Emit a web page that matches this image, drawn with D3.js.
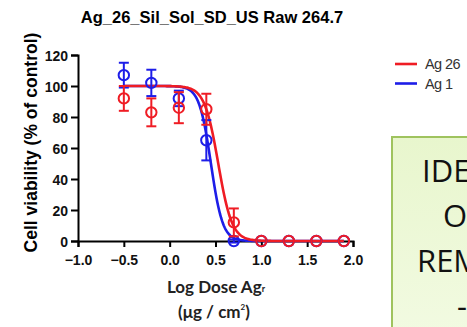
<!DOCTYPE html>
<html>
<head>
<meta charset="utf-8">
<script src="https://cdn.jsdelivr.net/npm/d3@7"></script>
<style>
  body { margin: 0; background: #fff; }
  svg { display: block; }
  .axis path, .axis line { stroke: #000; stroke-width: 2; }
  .axis text { font-family: "Liberation Sans", Arial, sans-serif; font-weight: bold; font-size: 14px; fill: #111; }
</style>
</head>
<body>
<div id="chart"></div>
<script>
// dose points (log µg/cm²)
const logDose = [-0.5, -0.2, 0.1, 0.4, 0.7, 1.0, 1.3, 1.6, 1.9];

// Ag 26 (red)
const ag26Mean = [92, 83, 86, 85, 12, 0, 0, 0, 0];
const ag26Sd = [8, 9, 10, 10, 9, 0, 0, 0, 0];
// Ag 1 (blue)
const ag1Mean = [107, 102, 92, 65, 0, 0, 0, 0, 0];
const ag1Sd = [8, 8.5, 5, 13, 1, 0, 0, 0, 0];

// fitted curve params: [bottom, top, logEC50, hill]
const ag26Fit = [0, 100, 0.53, 5.8];
const ag1Fit = [0, 100, 0.45, 6.8];

const xTicks = [-1.0, -0.5, 0.0, 0.5, 1.0, 1.5, 2.0];
const yTicks = [0, 20, 40, 60, 80, 100, 120];

const seriesNames = ['Ag 26', 'Ag 1'];
const seriesColors = ['#ef1c24', '#1d1de8'];

const W = 467, H = 327;
const margin = { top: 55, left: 78, right: 114, bottom: 86 };

const svg = d3.select('#chart').append('svg')
  .attr('width', W)
  .attr('height', H);

const xScale = d3.scaleLinear().domain([-1, 2]).range([margin.left, W - margin.right]);
const yScale = d3.scaleLinear().domain([0, 120]).range([H - margin.bottom, margin.top]);

// axes
svg.append('g')
  .attr('class', 'axis axis-x')
  .attr('transform', `translate(0, ${yScale(0)})`)
  .call(d3.axisBottom(xScale).tickValues(xTicks).tickFormat(d3.format('.1f')).tickSizeOuter(0).tickSize(6).tickPadding(5));

svg.append('g')
  .attr('class', 'axis axis-y')
  .attr('transform', `translate(${xScale(-1)}, 0)`)
  .call(d3.axisLeft(yScale).tickValues(yTicks).tickSizeOuter(0).tickSize(7).tickPadding(3));

svg.selectAll('.axis-x text').attr('dy', '0.95em');
svg.selectAll('.axis-y text').attr('dy', '0.36em');

// title
svg.append('text')
  .attr('x', 212)
  .attr('y', 23)
  .attr('text-anchor', 'middle')
  .style('font-family', '"Liberation Sans", Arial, sans-serif')
  .style('font-weight', 'bold')
  .style('font-size', '16.5px')
  .text('Ag_26_Sil_Sol_SD_US Raw 264.7');

// y axis title
svg.append('text')
  .attr('transform', `translate(37, ${(28 + 257) / 2}) rotate(-90)`)
  .attr('text-anchor', 'middle')
  .style('font-family', '"Liberation Sans", Arial, sans-serif')
  .style('font-weight', 'bold')
  .style('font-size', '17.5px')
  .text('Cell viability (% of control)');

// x axis title
const xt = svg.append('text')
  .attr('x', 216)
  .attr('y', 293)
  .attr('text-anchor', 'middle')
  .style('font-family', 'Lato, "Open Sans", sans-serif')
  .style('font-weight', 'bold')
  .style('font-size', '17px')
  .style('fill', '#222');
xt.append('tspan').text('Log Dose Ag');
xt.append('tspan').attr('font-size', '9px').attr('dy', '-1').text('r');

const xt2 = svg.append('text')
  .attr('x', 214)
  .attr('y', 318)
  .attr('text-anchor', 'middle')
  .style('font-family', 'Lato, "Open Sans", sans-serif')
  .style('font-weight', 'bold')
  .style('font-size', '17px')
  .style('fill', '#222');
xt2.append('tspan').text('(μg / cm');
xt2.append('tspan').attr('font-size', '8px').attr('dy', '-8').text('2');
xt2.append('tspan').attr('dy', '8').text(')');

// fitted curves
function fit(p) {
  const [bottom, top, ec, hill] = p;
  return x => bottom + (top - bottom) / (1 + Math.pow(10, (x - ec) * hill));
}
const curveX = d3.range(logDose[0], logDose[logDose.length - 1] + 0.0001, 0.01);
const line = d3.line().x(d => xScale(d[0])).y(d => yScale(d[1]));

const series = [
  { fit: ag1Fit, mean: ag1Mean, sd: ag1Sd, color: seriesColors[1] },
  { fit: ag26Fit, mean: ag26Mean, sd: ag26Sd, color: seriesColors[0] }
];

series.forEach(s => {
  const f = fit(s.fit);
  svg.append('path')
    .datum(curveX.map(x => [x, f(x)]))
    .attr('fill', 'none')
    .attr('stroke', s.color)
    .attr('stroke-width', 2.6)
    .attr('d', line);
});

series.forEach(s => {
  const g = svg.append('g').attr('stroke', s.color).attr('stroke-width', 2).attr('fill', 'none');
  const pts = logDose.map((x, i) => ({ x: x, m: s.mean[i], sd: s.sd[i] }));
  const eb = g.selectAll('.eb').data(pts.filter(d => d.sd > 0)).enter().append('g');
  eb.append('line')
    .attr('x1', d => xScale(d.x)).attr('x2', d => xScale(d.x))
    .attr('y1', d => yScale(d.m - d.sd)).attr('y2', d => yScale(d.m + d.sd));
  eb.append('line')
    .attr('x1', d => xScale(d.x) - 5).attr('x2', d => xScale(d.x) + 5)
    .attr('y1', d => yScale(d.m + d.sd)).attr('y2', d => yScale(d.m + d.sd));
  eb.append('line')
    .attr('x1', d => xScale(d.x) - 5).attr('x2', d => xScale(d.x) + 5)
    .attr('y1', d => yScale(d.m - d.sd)).attr('y2', d => yScale(d.m - d.sd));
  g.selectAll('circle').data(pts).enter().append('circle')
    .attr('cx', d => xScale(d.x))
    .attr('cy', d => yScale(d.m))
    .attr('r', 5.2);
});

// legend
const legend = svg.append('g').attr('transform', 'translate(395, 64)');
seriesNames.forEach((name, i) => {
  legend.append('line')
    .attr('x1', 0).attr('x2', 22)
    .attr('y1', i * 19.5).attr('y2', i * 19.5)
    .attr('stroke', seriesColors[i])
    .attr('stroke-width', 2.6);
  legend.append('text')
    .attr('x', 30)
    .attr('y', i * 19.5 + 5)
    .style('font-family', '"Liberation Sans", Arial, sans-serif')
    .style('font-size', '14.5px')
    .style('letter-spacing', '-0.6px')
    .style('fill', '#333')
    .text(name);
});

// green note box (clipped at the right edge)
const defs = svg.append('defs');
const grad = defs.append('linearGradient').attr('id', 'boxg').attr('x1', 0).attr('y1', 0).attr('x2', 0).attr('y2', 1);
grad.append('stop').attr('offset', '0%').attr('stop-color', '#e8f6cd');
grad.append('stop').attr('offset', '100%').attr('stop-color', '#f3fbe4');

svg.append('rect')
  .attr('x', 392).attr('y', 137)
  .attr('width', 120).attr('height', 220)
  .attr('fill', 'url(#boxg)')
  .attr('stroke', '#9fc35e')
  .attr('stroke-width', 2);

const noteLines = [['IDE', 422, 182], ['O', 443, 227], ['REM', 417, 272], ['-', 457, 317]];
svg.selectAll('.note').data(noteLines).enter().append('text')
  .attr('x', d => d[1])
  .attr('y', d => d[2])
  .style('font-family', '"Open Sans", Lato, sans-serif')
  .style('font-size', '31px')
  .style('fill', '#111')
  .text(d => d[0]);
</script>
</body>
</html>
